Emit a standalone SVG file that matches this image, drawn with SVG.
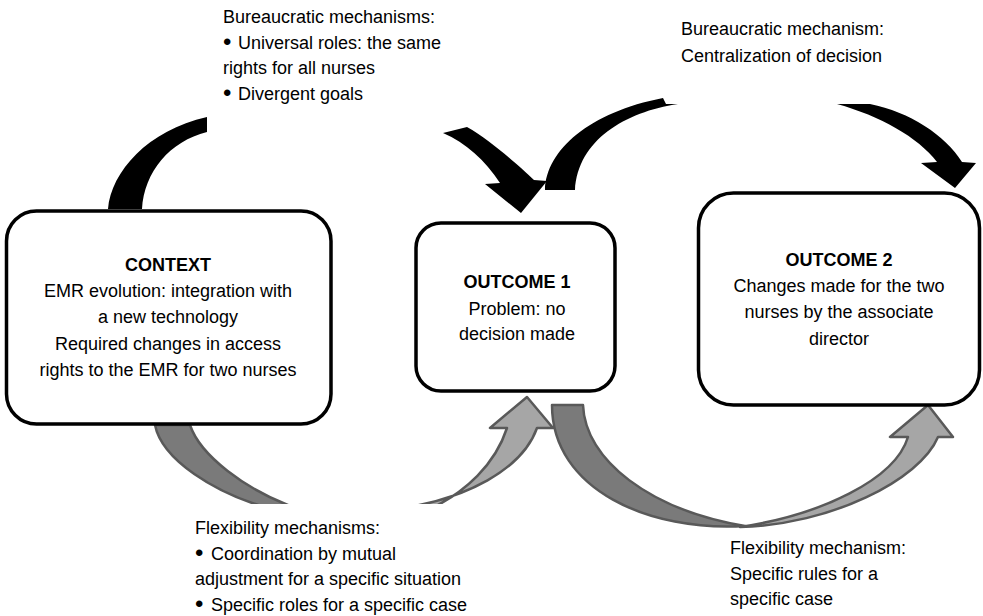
<svg xmlns="http://www.w3.org/2000/svg" width="983" height="616" viewBox="0 0 983 616">
<style>
.t{font-family:"Liberation Sans",Arial,sans-serif;font-size:18px;fill:#000}
.c{text-anchor:middle}
.b{font-weight:bold}
.bul{font-size:24px}
.box{fill:#fff;stroke:#000;stroke-width:3.5}
.blk{fill:#000}
.dk{fill:#7a7a7a;stroke:#595959;stroke-width:2.5;stroke-linejoin:round}
.lt{fill:#a6a6a6;stroke:#595959;stroke-width:2.5;stroke-linejoin:round}
</style>
<defs>
<clipPath id="cutA"><rect x="0" y="380" width="983" height="124"/></clipPath>
</defs>
<rect width="983" height="616" fill="#fff"/>
<g id="connectors">
<path class="blk" d="M108,209 C111,172 148,130 207,117 L207,132 C170,141 144,172 142,209 Z"/>
<path class="blk" d="M443,133 L467,127 C490,140 518,165 534,180 L547,181 L521,213 L485,184 L500,183 C485,160 466,143 443,133 Z"/>
<path class="blk" d="M545,190 C546,150 590,112 663,98 L666,104 L678,104 C625,112 578,140 575,190 Z"/>
<path class="blk" d="M837,104 L870,104 C910,112 945,135 962,162 L976,163 L955,188 L921,163 L937,162 C918,137 880,116 837,104 Z"/>
<g clip-path="url(#cutA)">
<path class="dk" d="M155,425 L190,425 C200,455 245,490 296,508 L268,508 C215,493 162,460 155,425 Z"/>
<path class="lt" d="M402,508 C465,499 522,470 537,428 L553,428 L527,397 L490,428 L507,428 C495,465 465,492 432,508 Z"/>
</g>
<path class="dk" d="M552,405 L583,405 C585,460 650,510 745,526 C650,532 552,490 552,405 Z"/>
<path class="lt" d="M740,527 C830,525 920,480 938,437 L953,437 L928,405 L890,437 L908,437 C895,480 820,515 740,527 Z"/>
</g>
<g id="context">
<rect class="box" x="6.5" y="211" width="324.5" height="213" rx="30"/>
<text class="t c b" x="168" y="271">CONTEXT</text>
<text class="t c" x="168" y="297">EMR evolution: integration with</text>
<text class="t c" x="168" y="323">a new technology</text>
<text class="t c" x="168" y="350">Required changes in access</text>
<text class="t c" x="168" y="376">rights to the EMR for two nurses</text>
</g>
<g id="outcome1">
<rect class="box" x="416" y="223" width="199" height="168" rx="25"/>
<text class="t c b" x="517" y="288">OUTCOME 1</text>
<text class="t c" x="517" y="315">Problem: no</text>
<text class="t c" x="517" y="340">decision made</text>
</g>
<g id="outcome2">
<rect class="box" x="698.5" y="193" width="281" height="212" rx="35"/>
<text class="t c b" x="839" y="266">OUTCOME 2</text>
<text class="t c" x="839" y="292">Changes made for the two</text>
<text class="t c" x="839" y="318">nurses by the associate</text>
<text class="t c" x="839" y="345">director</text>
</g>
<g id="label-bureaucratic-1">
<text class="t" x="223" y="23">Bureaucratic mechanisms:</text>
<text class="t" y="50"><tspan class="bul" x="223">•</tspan><tspan x="238" y="49">Universal roles: the same</tspan></text>
<text class="t" x="223" y="74">rights for all nurses</text>
<text class="t" y="101"><tspan class="bul" x="223">•</tspan><tspan x="238" y="100">Divergent goals</tspan></text>
</g>
<g id="label-bureaucratic-2">
<text class="t" x="681" y="35">Bureaucratic mechanism:</text>
<text class="t" x="681" y="62">Centralization of decision</text>
</g>
<g id="label-flexibility-1">
<text class="t" x="195" y="534">Flexibility mechanisms:</text>
<text class="t" y="561"><tspan class="bul" x="195">•</tspan><tspan x="211" y="560">Coordination by mutual</tspan></text>
<text class="t" x="195" y="585">adjustment for a specific situation</text>
<text class="t" y="612"><tspan class="bul" x="195">•</tspan><tspan x="211" y="611">Specific roles for a specific case</tspan></text>
</g>
<g id="label-flexibility-2">
<text class="t" x="730" y="554">Flexibility mechanism:</text>
<text class="t" x="730" y="580">Specific rules for a</text>
<text class="t" x="730" y="605">specific case</text>
</g>
</svg>
